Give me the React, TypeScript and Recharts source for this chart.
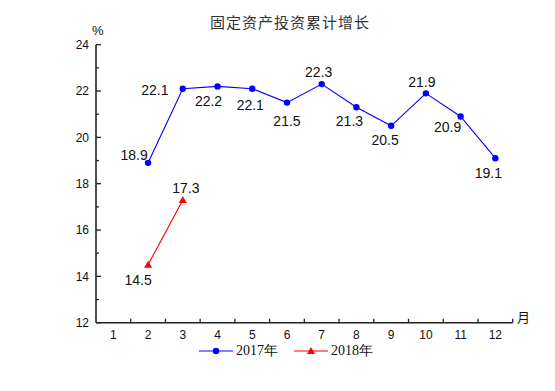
import React from 'react';
import { LineChart, Line, XAxis, YAxis } from 'recharts';

const months = ['1', '2', '3', '4', '5', '6', '7', '8', '9', '10', '11', '12'];
const growth2017: (number | null)[] = [null, 18.9, 22.1, 22.2, 22.1, 21.5, 22.3, 21.3, 20.5, 21.9, 20.9, 19.1];
const growth2018: (number | null)[] = [null, 14.5, 17.3, null, null, null, null, null, null, null, null, null];
const yTicks = [12, 13, 14, 15, 16, 17, 18, 19, 20, 21, 22, 23, 24];
const yLabelTicks = [12, 14, 16, 18, 20, 22, 24];

const data = months.map((m, i) => ({ month: m, y2017: growth2017[i], y2018: growth2018[i] }));

// label offsets (style): [dx, dy] relative to point
const off2017: [number, number][] = [
  [0, 0], [-14, -8], [-28, 1], [-9, 15], [-2, 16], [0, 18], [-3, -12], [-7, 14], [-6, 14], [-4, -11], [-13, 11], [-7, 15],
];
const off2018: [number, number][] = [
  [0, 0], [-10, 15], [3, -12], [0, 0], [0, 0], [0, 0], [0, 0], [0, 0], [0, 0], [0, 0], [0, 0], [0, 0],
];

const BLUE = '#0000ff';
const RED = '#ff0000';
const AXIS = '#222';
const W = 547;
const H = 383;

const makeLabel = (offs: [number, number][]) => (props: any) => {
  const { x, y, value, index } = props;
  if (value == null || x == null || y == null) return null;
  const o = offs[index] || [0, 0];
  return (
    <text x={x + o[0]} y={y + o[1]} dy="0.35em" textAnchor="middle" fontSize={14}
      fontFamily="'Liberation Sans', Arial, sans-serif" fill="#111">
      {value}
    </text>
  );
};

const BlueDot = (props: any) => {
  const { cx, cy, value } = props;
  if (value == null || cy == null) return <g />;
  return <circle cx={cx} cy={cy} r={3.2} fill={BLUE} />;
};

const RedDot = (props: any) => {
  const { cx, cy, value } = props;
  if (value == null || cy == null) return <g />;
  return <path d={`M${cx},${cy - 4} L${cx + 4},${cy + 3} L${cx - 4},${cy + 3} Z`} fill={RED} />;
};

const XTick = (props: any) => {
  const { x, y, payload } = props;
  const half = payload && payload.offset ? payload.offset : 17.36;
  return (
    <g>
      <line x1={x + half} x2={x + half} y1={y} y2={y - 4} stroke={AXIS} strokeWidth={1.3} />
      <text x={x} y={y + 16} textAnchor="middle" fontSize={12}
        fontFamily="'Liberation Sans', Arial, sans-serif" fill="#111">
        {payload.value}
      </text>
    </g>
  );
};

const YTick = (props: any) => {
  const { x, y, payload } = props;
  const major = yLabelTicks.includes(payload.value);
  return (
    <g>
      <line x1={x} x2={x + (major ? 5 : 3)} y1={y} y2={y} stroke={AXIS} strokeWidth={1.3} />
      {major && (
        <text x={x - 7} y={y} dy="0.35em" textAnchor="end" fontSize={12}
          fontFamily="'Liberation Sans', Arial, sans-serif" fill="#111">
          {payload.value}
        </text>
      )}
    </g>
  );
};

const LegendItem = ({ color, label, marker }: { color: string; label: string; marker: 'circle' | 'triangle' }) => (
  <div style={{ display: 'flex', alignItems: 'center', marginRight: 16 }}>
    <svg width={34} height={12} style={{ display: 'block' }}>
      <line x1={0} x2={34} y1={6} y2={6} stroke={color} strokeWidth={1.2} />
      {marker === 'circle' ? (
        <circle cx={17} cy={6} r={3.2} fill={color} />
      ) : (
        <path d="M17,2 L21,9 L13,9 Z" fill={color} />
      )}
    </svg>
    <span style={{ marginLeft: 3, fontFamily: "'Liberation Serif', 'Times New Roman', serif", fontSize: 14, color: '#111' }}>
      {label}
    </span>
  </div>
);

export default function App() {
  return (
    <div style={{ position: 'relative', width: W, height: H }}>
      <LineChart width={W} height={H} data={data}
        margin={{ top: 36.7, right: 42.3, bottom: 38.3, left: 48 }}>
        <XAxis dataKey="month" scale="band" axisLine={{ stroke: AXIS, strokeWidth: 1.6 }}
          tickLine={false} tickSize={0} tickMargin={0} height={30} tick={<XTick />} interval={0} />
        <YAxis domain={[12, 24]} ticks={yTicks} type="number" allowDataOverflow width={40}
          axisLine={{ stroke: AXIS, strokeWidth: 1.6 }} tickLine={false} tickSize={0} tickMargin={0}
          tick={<YTick />} interval={0} />
        <Line dataKey="y2017" stroke={BLUE} strokeWidth={1.1} dot={<BlueDot />} activeDot={false}
          isAnimationActive={false} connectNulls={false} label={makeLabel(off2017)} />
        <Line dataKey="y2018" stroke={RED} strokeWidth={1.1} dot={<RedDot />} activeDot={false}
          isAnimationActive={false} connectNulls={false} label={makeLabel(off2018)} />
      </LineChart>
      <div style={{ position: 'absolute', left: 182, top: 4, width: 200, textAlign: 'center',
        fontFamily: "'Noto Sans CJK SC', sans-serif", fontSize: 15, letterSpacing: 1, color: '#333', lineHeight: '20px' }}>
        固定资产投资累计增长
      </div>
      <div style={{ position: 'absolute', left: 84, top: 15, fontFamily: "'Liberation Sans', Arial, sans-serif",
        fontSize: 13, color: '#111', lineHeight: '16px' }}>
        %
      </div>
      <div style={{ position: 'absolute', left: 509, top: 300, fontFamily: "'Noto Sans CJK SC', sans-serif",
        fontSize: 13, color: '#111', lineHeight: '18px' }}>
        月
      </div>
      <div style={{ position: 'absolute', left: 191, top: 334, display: 'flex', alignItems: 'center', lineHeight: '18px' }}>
        <LegendItem color={BLUE} label="2017年" marker="circle" />
        <LegendItem color={RED} label="2018年" marker="triangle" />
      </div>
    </div>
  );
}
